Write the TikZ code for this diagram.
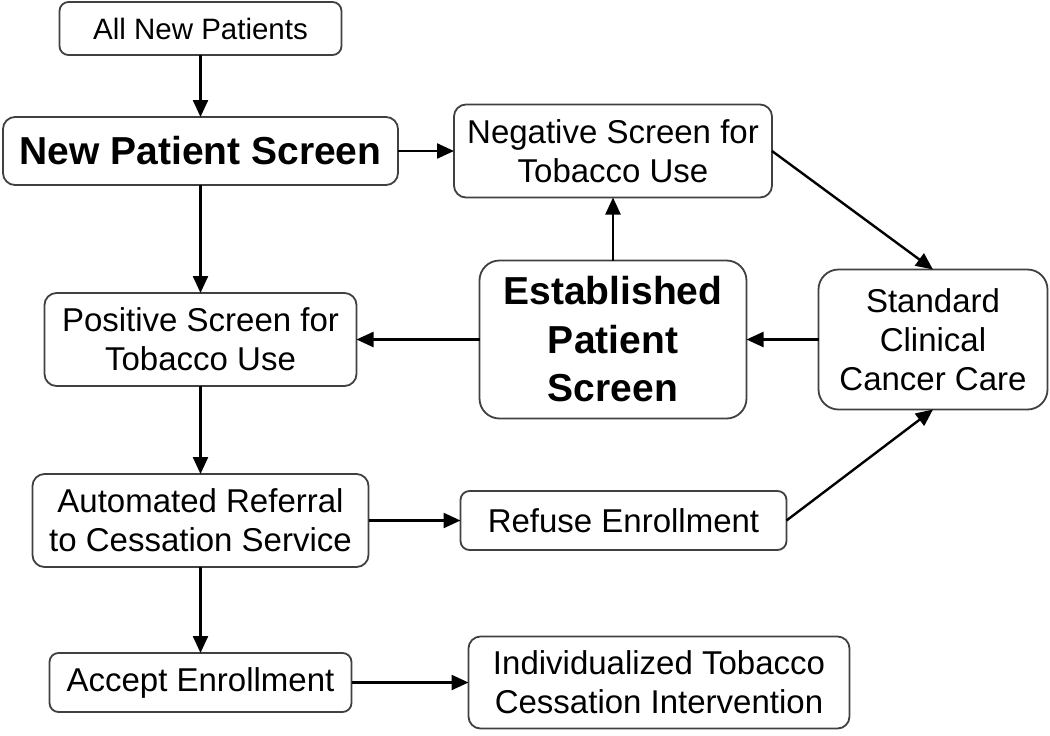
\documentclass[tikz,border=0pt]{standalone}
\usepackage{fontspec}
\setmainfont{Liberation Sans}
\usetikzlibrary{positioning,arrows.meta}

\begin{document}
\begin{tikzpicture}[
    box/.style={draw=black!75, line width=0.9pt, rounded corners=6pt, align=center,
        inner sep=0pt, outer sep=0pt, font=\fontsize{16.5}{19.5}\selectfont},
    bigbox/.style={box, font=\fontsize{19.5}{24.25}\selectfont\bfseries},
    flow/.style={-{Triangle[length=8.5pt,width=7.5pt]}, line width=1.2pt}]
\useasboundingbox (-100.25pt,75.5pt) rectangle (424.75pt,-292pt);

\node[bigbox, minimum width=197.5pt, minimum height=34pt] (nps) {New Patient Screen};
\node[box, minimum width=141pt, minimum height=26.5pt, rounded corners=4.5pt,
    font=\fontsize{14.75}{17}\selectfont] (anp) [above=31pt of nps] {All New Patients};
\node[box, minimum width=159pt, minimum height=46.5pt] (neg) [right=28pt of nps] {Negative Screen for\\Tobacco Use};
\node[bigbox, minimum width=133.5pt, minimum height=79pt, rounded corners=10pt] (eps) [below=31.5pt of neg] {Established\\Patient\\Screen};
\node[box, minimum width=114.5pt, minimum height=70pt, rounded corners=10pt] (scc) [right=36pt of eps] {Standard\\Clinical\\Cancer Care};

\node[box, minimum width=156pt, minimum height=46.5pt] (pos) [below=54pt of nps] {Positive Screen for\\Tobacco Use};
\node[box, minimum width=168pt, minimum height=46.5pt] (aref) [below=44pt of pos] {Automated Referral\\to Cessation Service};
\node[box, minimum width=163pt, minimum height=29.5pt, rounded corners=4.5pt] (ref) [right=46pt of aref] {Refuse Enrollment};
\node[box, minimum width=151pt, minimum height=29.5pt, rounded corners=4.5pt] (acc) [below=43pt of aref] {Accept Enrollment};
\node[box, minimum width=190.5pt, minimum height=46pt] (ind) [right=58.5pt of acc] {Individualized Tobacco\\Cessation Intervention};

\draw[flow] (anp) -- (nps);
\draw[flow] (nps) -- (neg);
\draw[flow] (nps) -- (pos);
\draw[flow] (eps) -- (neg);
\draw[flow] (eps) -- (pos);
\draw[flow] (neg.east) -- (scc.north);
\draw[flow] (scc) -- (eps);
\draw[flow] (pos) -- (aref);
\draw[flow] (aref) -- (ref);
\draw[flow] (ref.east) -- (scc.south);
\draw[flow] (aref) -- (acc);
\draw[flow] (acc) -- (ind);
\end{tikzpicture}
\end{document}
